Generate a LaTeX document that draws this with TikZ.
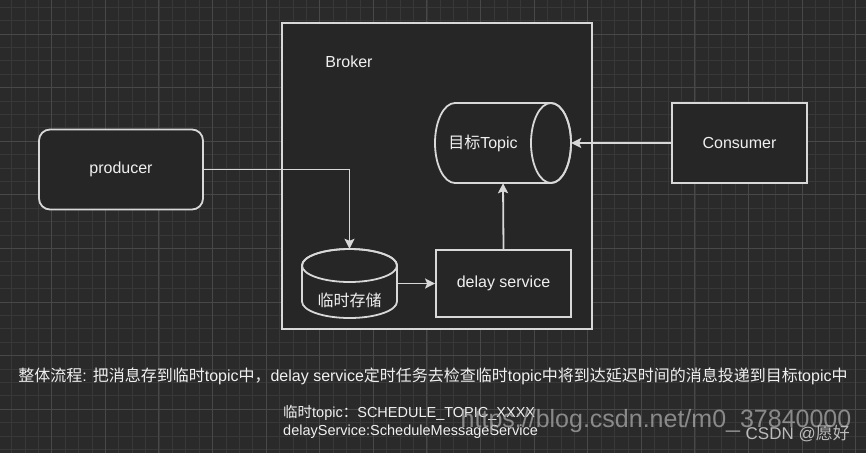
\documentclass[tikz,border=0pt]{standalone}
\usepackage{fontspec}
\setmainfont{Liberation Sans}
\newfontfamily\cjk{Noto Sans CJK SC}
\usepackage{xcolor}
\usetikzlibrary{arrows.meta,positioning,calc}
\definecolor{canvas}{RGB}{42,42,42}
\definecolor{gridminor}{RGB}{56,56,56}
\definecolor{gridmajor}{RGB}{72,72,72}
\definecolor{boxfill}{RGB}{38,38,38}
\definecolor{edge}{RGB}{216,216,216}
\definecolor{ink}{RGB}{240,240,240}
\definecolor{wmark}{RGB}{170,170,170}

\begin{document}
\begin{tikzpicture}[x=1pt, y=-1pt,
    thing/.style={draw=edge, line width=1.8pt, fill=boxfill, text=ink,
      font=\fontsize{16}{19}\selectfont, inner sep=0pt},
    shell/.style={draw=none, inner sep=0pt},
    flow/.style={draw=edge, line width=1.8pt, -{Stealth[length=10pt,width=10pt,inset=2pt]}},
    note/.style={text=ink, inner sep=0pt}]

  % Canvas and grid
  \useasboundingbox (0,0) rectangle (866,453);
  \fill[canvas] (0,0) rectangle (866,453);
  \foreach \gx in {-1.9,11.5,...,870} { \draw[gridminor, line width=0.8pt] (\gx,0) -- (\gx,453); }
  \foreach \gy in {-6.2,7.2,...,460} { \draw[gridminor, line width=0.8pt] (0,\gy) -- (866,\gy); }
  \foreach \gx in {-1.9,51.7,...,870} { \draw[gridmajor, line width=1pt] (\gx,0) -- (\gx,453); }
  \foreach \gy in {-19.6,34,...,460} { \draw[gridmajor, line width=1pt] (0,\gy) -- (866,\gy); }

  % Broker
  \node[thing, minimum width=310pt, minimum height=306pt] (broker) at (437,176) {};
  \node[note, font=\fontsize{16}{19}\selectfont] (brokerlabel) at (349,62) {Broker};

  % Producer and Consumer
  \node[thing, rounded corners=11pt, minimum width=164pt, minimum height=80pt] (producer) at (121,169.5) {producer};
  \node[thing, minimum width=135pt, minimum height=80pt] (consumer) at (739.5,143) {Consumer};

  % Delay service
  \node[thing, minimum width=135pt, minimum height=67pt] (delay) at (503.5,283.5) {delay service};

  % Temp storage cylinder
  \node[shell, minimum width=95pt, minimum height=69pt] (store) at (349.5,283.5) {};
  \draw[edge, line width=1.8pt, fill=boxfill]
    (302,265.5) -- (302,301.5) arc[start angle=180, end angle=360, x radius=47.5pt, y radius=16.5pt]
    -- (397,265.5) arc[start angle=0, end angle=180, x radius=47.5pt, y radius=16.5pt] -- cycle;
  \draw[edge, line width=1.8pt] (349.5,265.5) ellipse[x radius=47.5pt, y radius=16.5pt];
  \node[note, font=\cjk\fontsize{16}{19}\selectfont] (storelabel) at (349.5,300) {临时存储};

  % Target topic cylinder
  \node[shell, minimum width=136pt, minimum height=80pt] (topic) at (503,143) {};
  \draw[edge, line width=1.8pt, fill=boxfill]
    (455,103) arc[start angle=90, end angle=270, x radius=20pt, y radius=40pt]
    -- (551,183) arc[start angle=270, end angle=450, x radius=20pt, y radius=40pt] -- cycle;
  \draw[edge, line width=1.8pt] (551,143) ellipse[x radius=20pt, y radius=40pt];
  \node[note, font=\fontsize{16}{19}\selectfont] (topiclabel) at (483,143) {{\cjk 目标}Topic};

  % Connectors
  \draw[flow] (producer.east) -| (store.north);
  \draw[flow] (store.east) -- (delay.west);
  \draw[flow] (delay.north) -- (topic.south);
  \draw[flow] (consumer.west) -- (topic.east);

  % Notes
  \node[note, font=\fontsize{16}{19}\selectfont] (summary) at (433,376)
    {{\cjk 整体流程}: {\cjk 把消息存到临时}topic{\cjk 中，}delay service{\cjk 定时任务去检查临时}topic{\cjk 中将到达延迟时间的消息投递到目标}topic{\cjk 中}};
  \node[note, anchor=west, font=\fontsize{14.5}{17}\selectfont] (tempnote) at (283,413)
    {{\cjk 临时}topic{\cjk ：}SCHEDULE\_TOPIC\_XXXX};
  \node[note, anchor=west, font=\fontsize{14.5}{17}\selectfont] (delaynote) at (283,432)
    {delayService:ScheduleMessageService};

  % Watermark
  \node[text=wmark, opacity=0.75, font=\fontsize{25}{30}\selectfont, inner sep=0pt] (urlmark) at (656,421)
    {https://blog.csdn.net/m0\_37840000};
  \node[text=wmark!80!white, anchor=east, font=\fontsize{17}{20}\selectfont, inner sep=0pt] (csdnmark) at (850,434)
    {CSDN @{\cjk 愿好}};

\end{tikzpicture}
\end{document}
